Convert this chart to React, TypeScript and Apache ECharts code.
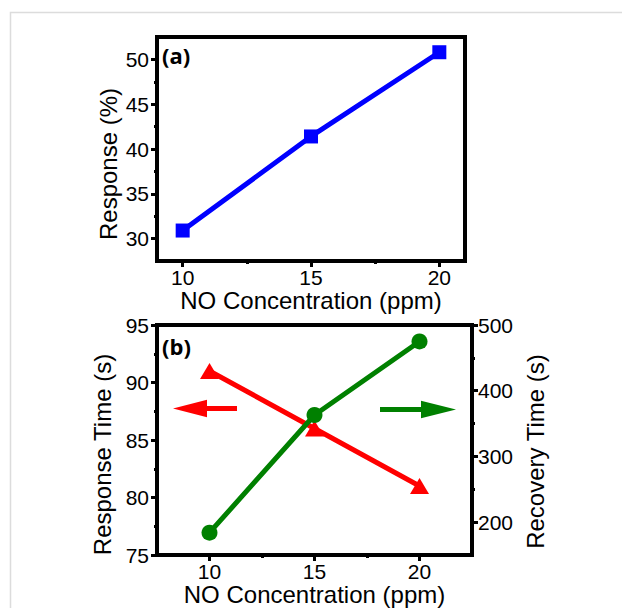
import React, { useEffect, useRef } from "react";
import * as echarts from "echarts";

const concentrations = [10, 15, 20];
const responsePct = [30.9, 41.4, 50.8];
const responseTime = [91, 86, 81];
const recoveryTime = [184, 363, 475];

const xTicks = [10, 15, 20];
const xMinorTicks = [12.5, 17.5];
const respTicks = [30, 35, 40, 45, 50];
const respMinorTicks = [32.5, 37.5, 42.5, 47.5];
const rtTicks = [75, 80, 85, 90, 95];
const rtMinorTicks = [77.5, 82.5, 87.5, 92.5];
const recTicks = [200, 300, 400, 500];
const recMinorTicks = [250, 350, 450];

const FONT = "Liberation Sans";
const BLACK = "#000";

function majorAxis(o: any) {
  return {
    type: "value",
    gridIndex: o.grid,
    min: o.min,
    max: o.max,
    position: o.position,
    name: o.name,
    nameLocation: "middle",
    nameGap: o.nameGap,
    nameRotate: o.nameRotate,
    nameTextStyle: {
      fontSize: 24,
      color: BLACK,
      fontFamily: FONT,
      padding: o.namePadding || 0,
    },
    axisLine: { show: true, onZero: false, lineStyle: { color: BLACK, width: 4 } },
    axisTick: {
      show: true,
      customValues: o.ticks,
      length: 6,
      lineStyle: { color: BLACK, width: 3 },
    },
    axisLabel: {
      show: true,
      customValues: o.ticks,
      fontSize: 21,
      color: BLACK,
      fontFamily: FONT,
      margin: o.labelMargin || 7,
    },
    splitLine: { show: false },
  };
}

function minorAxis(o: any) {
  return {
    type: "value",
    gridIndex: o.grid,
    min: o.min,
    max: o.max,
    position: o.position,
    axisLine: { show: false, onZero: false },
    axisTick: {
      show: true,
      customValues: o.ticks,
      length: 3,
      lineStyle: { color: BLACK, width: 3 },
    },
    axisLabel: { show: false },
    splitLine: { show: false },
  };
}

function pairs(xs: number[], ys: number[]) {
  return xs.map((x, i) => [x, ys[i]]);
}

export default function App() {
  const ref = useRef<HTMLDivElement>(null);
  useEffect(() => {
    if (!ref.current) return;
    const chart = echarts.init(ref.current, null, { renderer: "svg" });
    const xName = "NO Concentration (ppm)";
    chart.setOption({
      animation: false,
      backgroundColor: "#fff",
      grid: [
        { left: 157, top: 37, width: 308, height: 224, show: true, borderColor: BLACK, borderWidth: 4, backgroundColor: "transparent" },
        { left: 157, top: 325, width: 315, height: 230, show: true, borderColor: BLACK, borderWidth: 4, backgroundColor: "transparent" },
      ],
      xAxis: [
        majorAxis({ grid: 0, min: 9, max: 21, position: "bottom", name: xName, nameGap: 27, ticks: xTicks, labelMargin: 6 }),
        minorAxis({ grid: 0, min: 9, max: 21, position: "bottom", ticks: xMinorTicks }),
        majorAxis({ grid: 1, min: 7.5, max: 22.5, position: "bottom", name: xName, nameGap: 26, ticks: xTicks, labelMargin: 6 }),
        minorAxis({ grid: 1, min: 7.5, max: 22.5, position: "bottom", ticks: xMinorTicks }),
      ],
      yAxis: [
        majorAxis({ grid: 0, min: 27.5, max: 52.5, position: "left", name: "Response (%)", nameGap: 37, nameRotate: 90, namePadding: [0, 30, 0, 0], ticks: respTicks, labelMargin: 8 }),
        minorAxis({ grid: 0, min: 27.5, max: 52.5, position: "left", ticks: respMinorTicks }),
        majorAxis({ grid: 1, min: 75, max: 95, position: "left", name: "Response Time (s)", nameGap: 39, nameRotate: 90, namePadding: [0, 29, 0, 0], ticks: rtTicks, labelMargin: 8 }),
        minorAxis({ grid: 1, min: 75, max: 95, position: "left", ticks: rtMinorTicks }),
        majorAxis({ grid: 1, min: 150, max: 500, position: "right", name: "Recovery Time (s)", nameGap: 43, nameRotate: 90, namePadding: [0, 23, 0, 0], ticks: recTicks, labelMargin: 6 }),
        minorAxis({ grid: 1, min: 150, max: 500, position: "right", ticks: recMinorTicks }),
      ],
      series: [
        {
          type: "line",
          name: "Response",
          xAxisIndex: 0,
          yAxisIndex: 0,
          data: pairs(concentrations, responsePct),
          symbol: "rect",
          symbolSize: 14,
          lineStyle: { color: "#0000ff", width: 5 },
          itemStyle: { color: "#0000ff" },
          z: 3,
        },
        {
          type: "line",
          name: "Response Time",
          xAxisIndex: 2,
          yAxisIndex: 2,
          data: pairs(concentrations, responseTime),
          symbol: "triangle",
          symbolSize: [19, 16],
          lineStyle: { color: "#ff0000", width: 5 },
          itemStyle: { color: "#ff0000" },
          z: 3,
        },
        {
          type: "line",
          name: "Recovery Time",
          xAxisIndex: 2,
          yAxisIndex: 4,
          data: pairs(concentrations, recoveryTime),
          symbol: "circle",
          symbolSize: 16,
          lineStyle: { color: "#008000", width: 5 },
          itemStyle: { color: "#008000" },
          z: 4,
        },
      ],
      graphic: [
        {
          type: "rect",
          shape: { x: 10.5, y: 12.5, width: 800, height: 800 },
          style: { fill: "none", stroke: "#dcdcdc", lineWidth: 1.5 },
          silent: true,
          z: -10,
        },
        {
          type: "text",
          x: 162,
          y: 44,
          style: { text: "(a)", fontSize: 22, fontWeight: "bold", fontFamily: "Open Sans", fill: BLACK },
        },
        {
          type: "text",
          x: 162,
          y: 335,
          style: { text: "(b)", fontSize: 22, fontWeight: "bold", fontFamily: "Open Sans", fill: BLACK },
        },
        {
          type: "polygon",
          shape: {
            points: [
              [173, 408.5], [207, 399.8], [207, 406], [237, 406], [237, 411], [207, 411], [207, 417.2],
            ],
          },
          style: { fill: "#ff0000" },
        },
        {
          type: "polygon",
          shape: {
            points: [
              [456, 409.5], [421, 400.8], [421, 407], [380, 407], [380, 412], [421, 412], [421, 418.2],
            ],
          },
          style: { fill: "#008000" },
        },
      ],
    });
    return () => chart.dispose();
  }, []);
  return (
    <div
      ref={ref}
      style={{ position: "fixed", left: 0, top: 0, width: 622, height: 608, background: "#fff" }}
    />
  );
}
